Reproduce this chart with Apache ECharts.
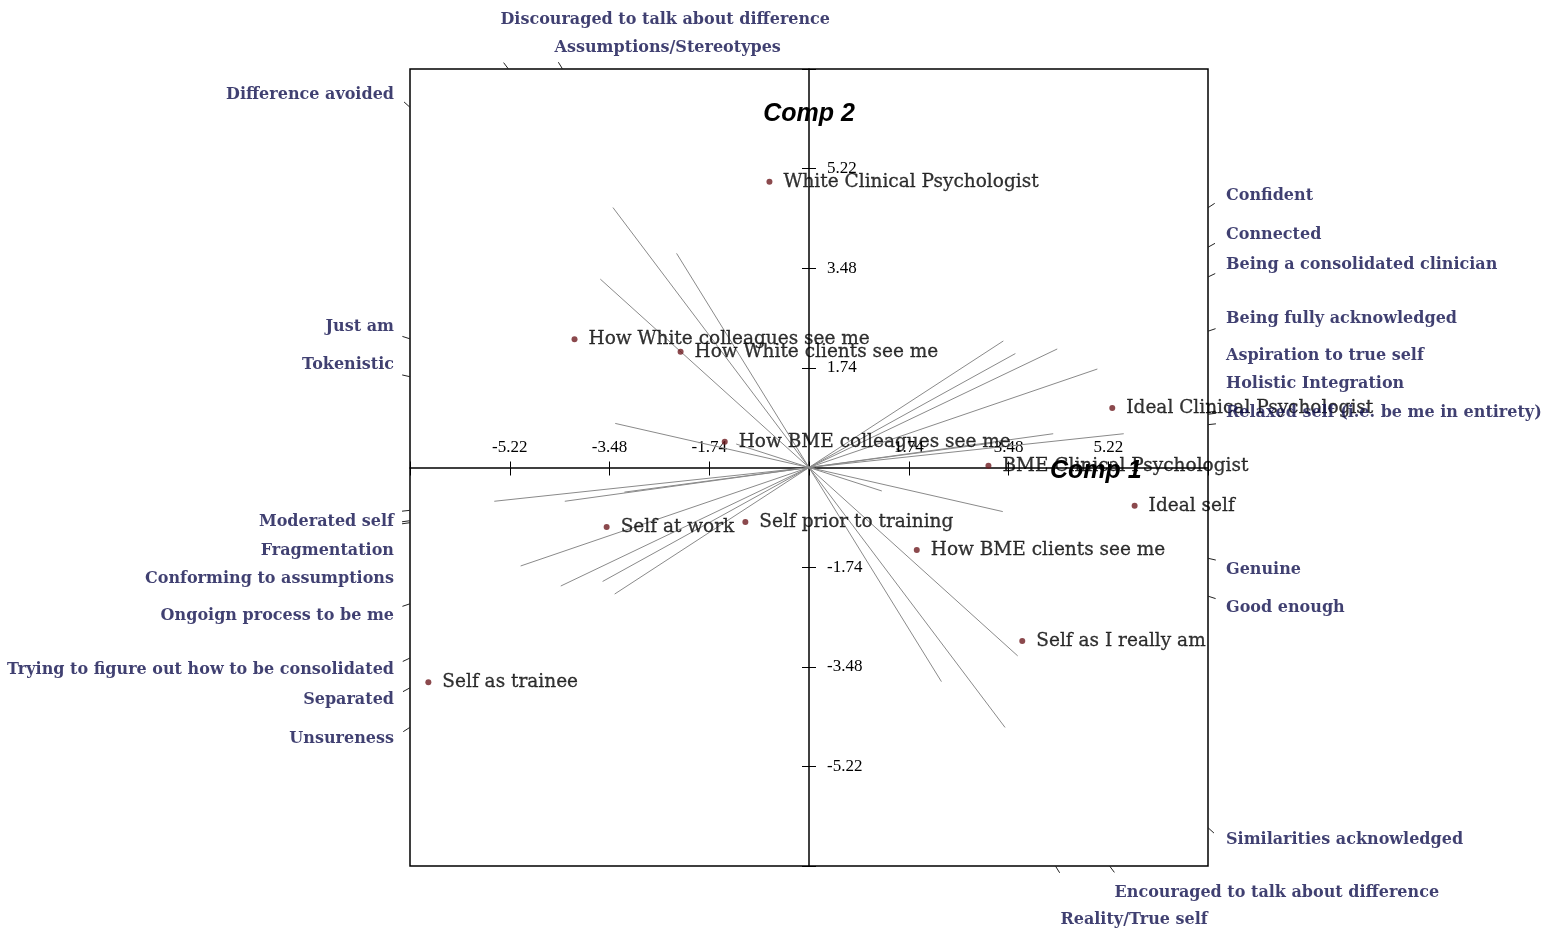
<!DOCTYPE html>
<html lang="en">
<head>
<meta charset="UTF-8">
<title>Grid biplot</title>
<style>html,body{margin:0;padding:0;background:#fff;}</style>
</head>
<body>
<div id="main" style="width:1554px;height:933px;"></div>
<script src="https://cdn.jsdelivr.net/npm/echarts@6/dist/echarts.min.js"></script>
<script type="text/javascript">
// elements (points)
var elements = ['White Clinical Psychologist', 'How White colleagues see me', 'How White clients see me',
  'How BME colleagues see me', 'Ideal Clinical Psychologist', 'BME Clinical Psychologist', 'Ideal self',
  'Self at work', 'Self prior to training', 'How BME clients see me', 'Self as I really am', 'Self as trainee'];
var elemX = [-0.69, -4.09, -2.24, -1.47, 5.29, 3.13, 5.68, -3.53, -1.11, 1.88, 3.72, -6.64];
var elemY = [4.99, 2.24, 2.02, 0.45, 1.04, 0.03, -0.67, -1.04, -0.95, -1.44, -3.03, -3.75];

// constructs: left pole, right pole, and where the left pole's line ends
var leftPoles = ['Discouraged to talk about difference', 'Assumptions/Stereotypes', 'Difference avoided',
  'Tokenistic', 'Moderated self', 'Fragmentation', 'Conforming to assumptions', 'Just am',
  'Ongoign process to be me', 'Trying to figure out how to be consolidated', 'Separated', 'Unsureness'];
var rightPoles = ['Encouraged to talk about difference', 'Reality/True self', 'Similarities acknowledged',
  'Genuine', 'Relaxed self (i.e. be me in entirety)', 'Holistic Integration', 'Aspiration to true self',
  'Good enough', 'Being fully acknowledged', 'Being a consolidated clinician', 'Connected', 'Confident'];
var loadX = [-3.42, -2.31, -3.64, -3.38, -5.49, -3.22, -4.26, -1.27, -5.03, -4.33, -3.60, -3.39];
var loadY = [4.54, 3.74, 3.29, 0.77, -0.59, -0.43, -0.59, 0.41, -1.72, -2.07, -1.99, -2.21];

var tickValues = [-5.22, -3.48, -1.74, 1.74, 3.48, 5.22];

var L = 6.96;        // half width of the plot box
var unit = 57.3;     // pixels per axis unit (used for label spacing only)
var navy = '#10104e';

var myChart = echarts.init(document.getElementById('main'));

// construct lines through the origin
var constructLines = loadX.map(function (x, i) {
  return { coords: [[x, loadY[i]], [-x, -loadY[i]]] };
});

// where each pole meets the frame, and label placement
var poles = [];
leftPoles.forEach(function (n, i) {
  poles.push({ name: n, dx: loadX[i], dy: loadY[i] });
  poles.push({ name: rightPoles[i], dx: -loadX[i], dy: -loadY[i] });
});
poles.forEach(function (p) {
  var t = L / Math.max(Math.abs(p.dx), Math.abs(p.dy));
  p.hx = p.dx * t;
  p.hy = p.dy * t;
  if (Math.abs(p.dx) >= Math.abs(p.dy)) p.side = p.dx < 0 ? 'left' : 'right';
  else p.side = p.dy > 0 ? 'top' : 'bottom';
});

var edgeTicks = poles.map(function (p) {
  var len = Math.sqrt(p.dx * p.dx + p.dy * p.dy);
  var k = 8 / unit / len;
  return { coords: [[p.hx, p.hy], [p.hx + p.dx * k, p.hy + p.dy * k]] };
});

var gap = 28.5 / unit, off = 12 / unit;
['left', 'right'].forEach(function (side) {
  var grp = poles.filter(function (p) { return p.side === side; });
  grp.forEach(function (p) {
    p.lx = side === 'left' ? -L - 16 / unit : L + 18 / unit;
    p.ly = p.hy + (p.hy >= 0 ? off : -off);
  });
  var up = grp.filter(function (p) { return p.hy >= 0; }).sort(function (a, b) { return a.ly - b.ly; });
  for (var i = 1; i < up.length; i++) up[i].ly = Math.max(up[i].ly, up[i - 1].ly + gap);
  var dn = grp.filter(function (p) { return p.hy < 0; }).sort(function (a, b) { return b.ly - a.ly; });
  for (var j = 1; j < dn.length; j++) dn[j].ly = Math.min(dn[j].ly, dn[j - 1].ly - gap);
});
['top', 'bottom'].forEach(function (side) {
  var grp = poles.filter(function (p) { return p.side === side; })
    .sort(function (a, b) { return b.hx - a.hx; });
  grp.forEach(function (p, i) {
    p.lx = p.hx + (side === 'top' ? -8 : 5) / unit;
    p.ly = side === 'top' ? L + (21 + 28 * i) / unit : -L - (27 + 27 * i) / unit;
  });
});

var constructLabels = poles.map(function (p) {
  return {
    name: p.name,
    value: [p.lx, p.ly],
    label: { position: p.side === 'left' ? 'left' : 'right' }
  };
});

var elemData = elements.map(function (n, i) {
  return { name: n, value: [elemX[i], elemY[i]] };
});

function tickFmt(v) {
  for (var i = 0; i < tickValues.length; i++) {
    if (Math.abs(v - tickValues[i]) < 0.001) return tickValues[i].toFixed(2);
  }
  return '';
}

var serif = 'DejaVu Serif';
var tickFont = 'Liberation Serif';

// the axes sit in the middle of the frame: offset pulls them in from the edges
var midX = -398.5, midY = -399;

myChart.setOption({
  backgroundColor: '#fff',
  animation: false,
  grid: { left: 410, top: 69, width: 798, height: 797, show: true, borderColor: '#000', borderWidth: 1.5 },
  xAxis: [{
    type: 'value', min: -L, max: L, interval: 1.74, position: 'bottom', offset: midX,
    axisLine: { onZero: false, lineStyle: { color: '#000', width: 1.5 } },
    axisTick: { length: 8, lineStyle: { color: '#000' } },
    axisLabel: { inside: true, margin: 11, formatter: tickFmt, color: '#000', fontFamily: tickFont, fontSize: 17 },
    splitLine: { show: false },
    name: 'Comp 1', nameLocation: 'end', nameGap: -158, nameMoveOverlap: false,
    nameTextStyle: { fontFamily: 'Liberation Sans', fontWeight: 'bold', fontStyle: 'italic', fontSize: 25, color: '#000', verticalAlign: 'top', lineHeight: 8 }
  }, {
    type: 'value', min: -L, max: L, interval: 1.74, position: 'top', offset: midX,
    axisLine: { onZero: false, show: false },
    axisTick: { length: 6, lineStyle: { color: '#000' } },
    axisLabel: { show: false }, splitLine: { show: false }
  }],
  yAxis: [{
    type: 'value', min: -L, max: L, interval: 1.74, position: 'left', offset: midY,
    axisLine: { onZero: false, lineStyle: { color: '#000', width: 1.5 } },
    axisTick: { length: 7, lineStyle: { color: '#000' } },
    axisLabel: { inside: true, margin: 18, formatter: tickFmt, color: '#000', fontFamily: tickFont, fontSize: 17 },
    splitLine: { show: false },
    name: 'Comp 2', nameLocation: 'end', nameGap: -58, nameMoveOverlap: false,
    nameTextStyle: { fontFamily: 'Liberation Sans', fontWeight: 'bold', fontStyle: 'italic', fontSize: 25, color: '#000' }
  }, {
    type: 'value', min: -L, max: L, interval: 1.74, position: 'right', offset: midY,
    axisLine: { onZero: false, show: false },
    axisTick: { length: 7, lineStyle: { color: '#000' } },
    axisLabel: { show: false }, splitLine: { show: false }
  }],
  series: [{
    type: 'lines', coordinateSystem: 'cartesian2d', xAxisIndex: 0, yAxisIndex: 0,
    data: constructLines, silent: true,
    lineStyle: { color: '#8a8a8a', width: 1, opacity: 1 }
  }, {
    type: 'lines', coordinateSystem: 'cartesian2d', xAxisIndex: 0, yAxisIndex: 0,
    data: edgeTicks, silent: true, clip: false,
    lineStyle: { color: '#222', width: 1, opacity: 1 }
  }, {
    type: 'scatter', xAxisIndex: 0, yAxisIndex: 0,
    data: elemData, symbolSize: 6,
    itemStyle: { color: '#6e1b21' },
    label: {
      show: true, position: 'right', distance: 11, formatter: '{b}', color: '#000',
      fontFamily: serif, fontSize: 18.5, textBorderColor: '#000', textBorderWidth: 0.3
    }
  }, {
    type: 'scatter', xAxisIndex: 0, yAxisIndex: 0,
    data: constructLabels, symbolSize: 0, clip: false, silent: true,
    label: { show: true, distance: 0, formatter: '{b}', color: navy, fontFamily: serif, fontWeight: 'bold', fontSize: 16 }
  }]
});
</script>
</body>
</html>
